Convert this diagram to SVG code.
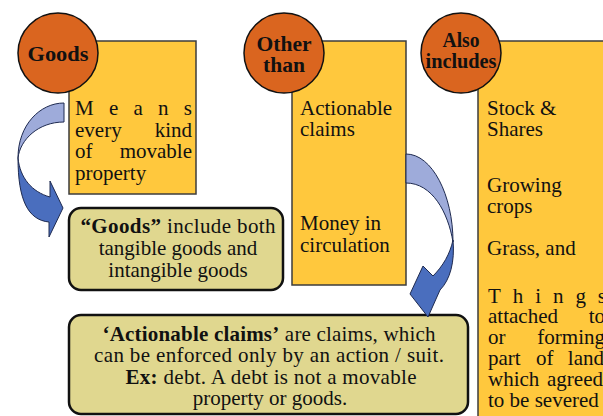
<svg xmlns="http://www.w3.org/2000/svg" width="603" height="416" viewBox="0 0 603 416">
<style>
  .box { fill: #FFC83D; stroke: #3C3C3C; stroke-width: 1.5; }
  .circ { fill: #DA651F; stroke: #111; stroke-width: 1.5; }
  .note { fill: #E0D78F; stroke: #111; stroke-width: 2.5; }
  .ct { font-family: "Liberation Serif", "Times New Roman", serif; font-weight: bold; font-size: 21px; fill: #111; text-anchor: middle; }
  .t { font-family: "Liberation Serif", "Times New Roman", serif; font-size: 21px; fill: #111; }
  .te { font-family: "Liberation Serif", "Times New Roman", serif; font-size: 21px; fill: #111; text-anchor: end; }
  .tc { font-family: "Liberation Serif", "Times New Roman", serif; font-size: 21px; fill: #111; text-anchor: middle; }
  .b { font-weight: bold; }
  .light { fill: #9EABDA; stroke: #1E2A50; stroke-width: 1; stroke-linejoin: round; }
  .dark { fill: #4A6EBE; stroke: #1E2A50; stroke-width: 1; stroke-linejoin: round; }
</style>
<rect width="603" height="416" fill="#FFFFFF"/>

<g id="goods-box">
  <rect class="box" x="69" y="41" width="127" height="153"/>
  <text class="t" x="75" y="115" textLength="117" lengthAdjust="spacing">Means</text>
  <text class="t" x="75" y="137">every</text>
  <text class="te" x="192" y="137">kind</text>
  <text class="t" x="75" y="158">of</text>
  <text class="te" x="192" y="158">movable</text>
  <text class="t" x="75" y="180">property</text>
</g>
<g id="goods-circle">
  <circle class="circ" cx="58" cy="53" r="40"/>
  <text class="ct" x="58" y="61" textLength="61" lengthAdjust="spacingAndGlyphs">Goods</text>
</g>

<g id="other-box">
  <rect class="box" x="292" y="41" width="114" height="244"/>
  <text class="t" x="300" y="115">Actionable</text>
  <text class="t" x="300" y="136">claims</text>
  <text class="t" x="300" y="230">Money in</text>
  <text class="t" x="300" y="252">circulation</text>
</g>
<g id="other-circle">
  <circle class="circ" cx="284" cy="53" r="40"/>
  <text class="ct" x="284" y="51" textLength="55" lengthAdjust="spacingAndGlyphs">Other</text>
  <text class="ct" x="284" y="72" textLength="42" lengthAdjust="spacingAndGlyphs">than</text>
</g>

<g id="also-box">
  <rect class="box" x="478" y="41" width="140" height="400"/>
  <text class="t" x="487" y="115">Stock &amp;</text>
  <text class="t" x="487" y="136">Shares</text>
  <text class="t" x="487" y="192">Growing</text>
  <text class="t" x="487" y="213">crops</text>
  <text class="t" x="487" y="255">Grass, and</text>
  <text class="t" x="488" y="303" textLength="118" lengthAdjust="spacing">Things</text>
  <text class="t" x="488" y="323">attached</text>
  <text class="te" x="605" y="323">to</text>
  <text class="t" x="488" y="344">or</text>
  <text class="te" x="605" y="344">forming</text>
  <text class="t" x="488" y="365">part</text>
  <text class="t" x="536" y="365">of</text>
  <text class="te" x="604" y="365">land</text>
  <text class="t" x="488" y="386">which</text>
  <text class="te" x="603" y="386">agreed</text>
  <text class="t" x="488" y="407">to be severed</text>
</g>
<g id="also-circle">
  <circle class="circ" cx="461" cy="53" r="40"/>
  <text class="ct" x="461" y="47" textLength="37" lengthAdjust="spacingAndGlyphs">Also</text>
  <text class="ct" x="461" y="68" textLength="71" lengthAdjust="spacingAndGlyphs">includes</text>
</g>

<g id="goods-note">
  <rect class="note" x="69" y="208" width="214" height="82" rx="12"/>
  <text class="tc" x="178" y="233" textLength="195" lengthAdjust="spacing"><tspan class="b">“Goods”</tspan> include both</text>
  <text class="tc" x="178" y="255">tangible goods and</text>
  <text class="tc" x="178" y="277">intangible goods</text>
</g>

<g id="actionable-note">
  <rect class="note" x="69" y="315" width="399" height="99" rx="12"/>
  <text class="tc" x="269" y="341" textLength="333" lengthAdjust="spacing"><tspan class="b">‘Actionable claims’</tspan> are claims, which</text>
  <text class="tc" x="269" y="362" textLength="350" lengthAdjust="spacing">can be enforced only by an action / suit.</text>
  <text class="tc" x="271" y="384" textLength="291" lengthAdjust="spacing"><tspan class="b">Ex:</tspan> debt. A debt is not a movable</text>
  <text class="tc" x="270" y="405">property or goods.</text>
</g>

<g id="connectors">
  <path class="light" d="M64,103 C40,103 18,125 18,158 C20,140 38,122 64,122 Z"/>
  <path class="dark" d="M18,158 C20,178 32,192 50,197 L50,181 L63,208 L49,237 L49,222 C28,220 18,200 18,158 Z"/>
  <path class="light" d="M406,154 C432,154 453,195 453,242 C448,212 432,183 406,183 Z"/>
  <path class="dark" d="M453,240 C455,262 450,280 440,290 L428,317 L410,294 L423,266 L433,276 C443,266 450,254 453,240 Z"/>
</g>
</svg>
